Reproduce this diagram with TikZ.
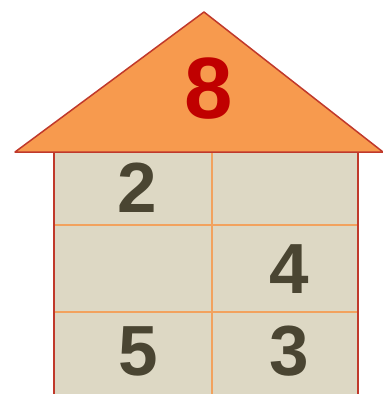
\documentclass[tikz,border=0pt]{standalone}
\usepackage{fontspec}
\setmainfont{Liberation Sans}
\definecolor{roofcol}{HTML}{F79A4E}
\definecolor{wallcol}{HTML}{DDD8C4}
\definecolor{edgecol}{HTML}{C0392B}
\definecolor{gridcol}{HTML}{F2A25E}
\definecolor{topcol}{HTML}{C00000}
\definecolor{digitcol}{HTML}{4A4532}

\begin{document}
\begin{tikzpicture}[x=1pt, y=-1pt,
	every node/.style={font=\bfseries\fontsize{71}{71}\selectfont, text=digitcol, inner sep=0pt},
	gridline/.style={draw=gridcol, line width=2pt}]
	\useasboundingbox (0,0) rectangle (383,394);
	\fill[wallcol] (54,152) rectangle (358,394);
	\foreach \y in {225,312} {
		\draw[gridline] (54,\y) -- (358,\y);
	}
	\draw[gridline] (212,152) -- (212,394);
	\draw[edgecol, line width=1.2pt] (54,394) -- (54,152) -- (358,152) -- (358,394);
	\filldraw[fill=roofcol, draw=edgecol, line width=1.5pt, line join=round] (15,152) -- (204,12) -- (383,152) -- cycle;
	\node[text=topcol, font=\bfseries\fontsize{87}{87}\selectfont] (eight) at (209,89) {8};
	\node (two) at (137,188) {2};
	\node (four) at (289,269) {4};
	\node (five) at (138,351) {5};
	\node (three) at (289,351) {3};
\end{tikzpicture}
\end{document}
